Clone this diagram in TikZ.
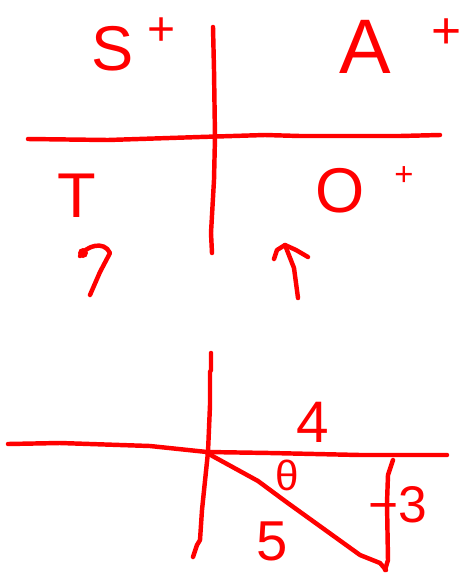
\documentclass[tikz,border=0pt]{standalone}
\usepackage{fontspec}
\setmainfont{Liberation Sans}
\usetikzlibrary{positioning}

\tikzset{
  pen/.style={draw=red, line width=3.8pt, line cap=round, line join=round},
  mark red/.style={text=red, inner sep=0pt, text depth=0pt, anchor=base}
}

\begin{document}
\begin{tikzpicture}[x=0.03cm, y=-0.03cm]
    \useasboundingbox (0,0) rectangle (472,574);

    % quadrant sketch
    \draw[pen] (213,27) -- (214,70) -- (215,137) -- (214,180) -- (211,233) -- (212,253);
    \draw[pen] (28,139) -- (108,140) -- (200,137) -- (265,135) -- (300,136) -- (400,136) -- (440,135);

    \node[mark red, text height=39pt, font=\fontsize{54}{60}\selectfont] (sine) at (113,70) {S};
    \node[mark red, text height=25pt, font=\fontsize{41}{45}\selectfont] (sinep) at (162,45) {+};
    \node[mark red, text height=48pt, font=\fontsize{66}{70}\selectfont] (all) at (365,73) {A};
    \node[mark red, text height=26pt, font=\fontsize{44}{48}\selectfont] (allp) at (447,48) {+};
    \node[mark red, text height=39pt, font=\fontsize{54}{60}\selectfont] (tan) at (77,217) {T};
    \node[mark red, text height=39pt, font=\fontsize{54}{60}\selectfont] (cosine) at (340,212) {O};
    \node[mark red, text height=17pt, font=\fontsize{28}{32}\selectfont] (cosp) at (404,185) {+};

    % hook and up arrow
    \draw[pen] (80,256) .. controls (86,246) and (104,240) .. (110,253) -- (100,272) -- (90,295);
    \fill[red] (83,253) circle (5);
    \coordinate (tip) at (285,245);
    \draw[pen] (298,298) -- (294,268) -- (tip);
    \draw[pen] (274,259) -- (277,250) -- (tip) -- (296,250) -- (308,257);

    % triangle sketch
    \draw[pen] (211,353) -- (211,370) -- (210,372) -- (210,405) -- (208,452) -- (202,510) -- (200,540) -- (197,545) -- (193,557);
    \draw[pen] (8,444) -- (60,443) -- (150,446) -- (207,452) -- (270,453) -- (360,455) -- (447,455);
    \draw[pen] (207,453) -- (258,481) -- (285,501) -- (360,555) -- (380,563) -- (386,570);
    \draw[pen] (393,460) -- (388,475) -- (387,503) -- (388,560) -- (385,570);

    \node[mark red, text height=36pt, font=\fontsize{50}{56}\selectfont] (adj) at (313,442) {4};
    \node[mark red, text height=26pt, font=\fontsize{36}{40}\selectfont] (ang) at (287,490) {θ};
    \node[mark red, text height=35pt, font=\fontsize{48}{54}\selectfont] (hyp) at (272,560) {5};
    \node[mark red, text height=32pt, font=\fontsize{44}{48}\selectfont, anchor=base west] (opp) at (368,522) {−3};
\end{tikzpicture}
\end{document}
